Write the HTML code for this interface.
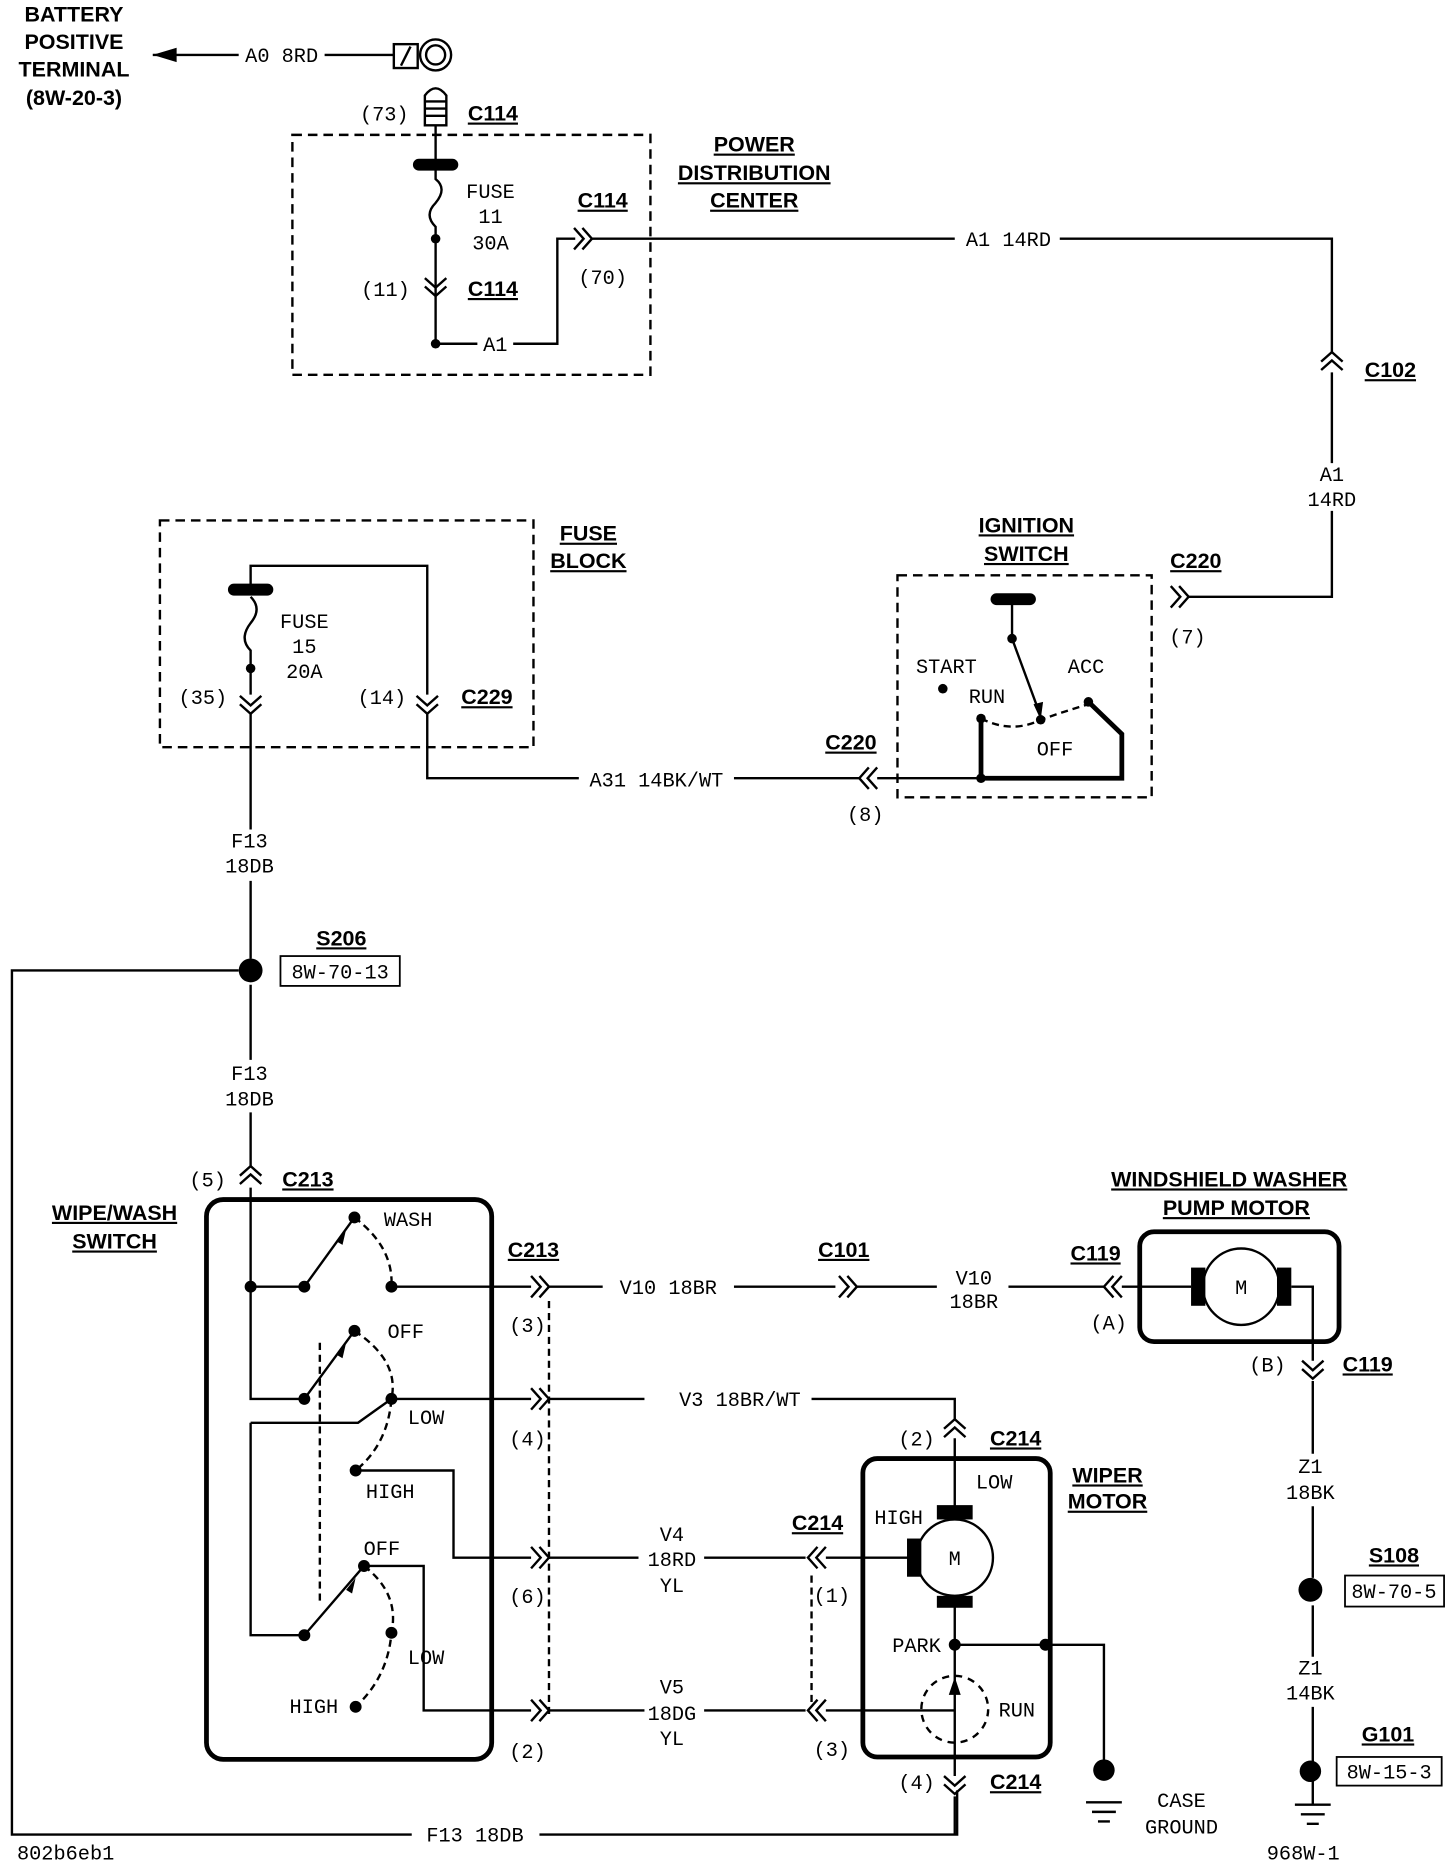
<!DOCTYPE html>
<html><head><meta charset="utf-8"><style>
html,body{margin:0;padding:0;background:#fff}
svg{display:block}
text{font-family:"Liberation Mono","DejaVu Sans Mono",monospace;font-size:17px;fill:#000}
.b{font-family:"Liberation Sans",sans-serif;font-weight:bold;font-size:18px;text-decoration:underline}
.bn{font-family:"Liberation Sans",sans-serif;font-weight:bold;font-size:18px}
</style></head><body>
<svg width="1456" height="1862" viewBox="0 0 1220 1560" preserveAspectRatio="none" xmlns="http://www.w3.org/2000/svg">
<defs>
<g id="cr"><path d="M-7,-9 L1,0 L-7,9 M0,-9 L8,0 L0,9" fill="none" stroke="#000" stroke-width="2"/></g>
</defs>
<g fill="none" stroke="#000" stroke-width="2">
<path d="M128,46 L200,46 M272,46 L330,46"/>
<rect x="330" y="37" width="20" height="20"/><path d="M336,55 L344,39"/>
<circle cx="365" cy="46" r="13"/><circle cx="365" cy="46" r="8"/>
<path d="M356,105 L356,80 Q365,68 374,80 L374,105 Z M356,85 H374 M356,91 H374 M356,97 H374"/>
<rect x="245" y="113" width="300" height="201" stroke-dasharray="8,5"/>
<path d="M365,105 L365,150 Q375,158 365,170 Q355,180 365,190 L365,288 L400,288 M430,288 L467,288 L467,200 L482,200 M495,200 L800,200 M888,200 L1116,200 L1116,295 M1116,312 L1116,388 M1116,428 L1116,500 L995,500"/>
<rect x="752" y="482" width="213" height="186" stroke-dasharray="8,5"/>
<path d="M848,502 L848,535 L872,600"/>
<path d="M822,602 Q848,615 872,603 Q895,595 912,590" stroke-dasharray="6,4"/>
<path d="M822,602 L822,652 L940,652 L940,615 L912,588" stroke-width="4"/>
<path d="M822,652 L735,652 M720,652 L615,652 M485,652 L358,652 L358,598 M358,582 L358,474 L210,474 L210,490"/>
<path d="M210,500 Q220,510 210,522 Q200,535 210,545 L210,582 M210,598 L210,695 M210,738 L210,803"/>
<rect x="134" y="436" width="313" height="190" stroke-dasharray="8,5"/>
<path d="M200,813 L10,813 L10,1537 L345,1537 M452,1537 L802,1537 L802,1500"/>
<path d="M210,825 L210,888 M210,932 L210,978 M210,995 L210,1172 L255,1172 M210,1078 L255,1078"/>
<rect x="173" y="1005" width="239" height="469" rx="14" stroke-width="4"/>
<path d="M255,1078 L297,1020 M328,1078 L445,1078 M255,1172 L297,1115 M328,1172 L445,1172 M298,1232 L380,1232 L380,1305 L445,1305"/>
<path d="M297,1020 Q330,1045 328,1078 M297,1115 Q335,1140 328,1172 Q325,1210 298,1232 M305,1312 Q335,1335 328,1368 Q325,1405 298,1430" stroke-dasharray="6,4"/>
<path d="M210,1192 L300,1192 L328,1172 M210,1192 L210,1370 L255,1370 L305,1312 L355,1312 L355,1433 L445,1433"/>
<path d="M268,1125 L268,1345 M460,1090 L460,1440 M680,1320 L680,1430" stroke-dasharray="6,4"/>
<path d="M460,1078 L505,1078 M615,1078 L700,1078 M718,1078 L785,1078 M845,1078 L925,1078 M940,1078 L998,1078"/>
<rect x="955" y="1032" width="167" height="92" rx="12" stroke-width="4"/>
<circle cx="1040" cy="1078" r="32"/>
<path d="M1082,1078 L1100,1078 L1100,1140 M1100,1157 L1100,1218 M1100,1262 L1100,1322 M1100,1345 L1100,1388 M1100,1430 L1100,1512"/>
<path d="M1085,1512 H1115 M1090,1520 H1110 M1095,1528 H1105"/>
<path d="M460,1172 L540,1172 M680,1172 L800,1172 L800,1190 M800,1205 L800,1265"/>
<rect x="723" y="1222" width="157" height="250" rx="12" stroke-width="4"/>
<circle cx="800" cy="1305" r="32"/>
<path d="M770,1305 L692,1305 M675,1305 L590,1305 M535,1305 L460,1305"/>
<path d="M800,1345 L800,1460 M800,1378 L925,1378 L925,1483 M800,1460 L800,1488 M800,1505 L800,1537"/>
<path d="M910,1510 H940 M915,1518 H935 M920,1526 H930"/>
<circle cx="800" cy="1432" r="28" stroke-dasharray="6,5"/>
<path d="M460,1433 L540,1433 M590,1433 L675,1433 M692,1433 L800,1433"/>
<rect x="235" y="801" width="100" height="25" stroke-width="1.5"/>
<rect x="1127" y="1320" width="83" height="26" stroke-width="1.5"/>
<rect x="1120" y="1472" width="88" height="24" stroke-width="1.5"/>
</g>
<g fill="#000">
<path d="M128,46 L148,40 L148,52 Z"/>
<rect x="346" y="133" width="38" height="10" rx="5"/>
<rect x="191" y="489" width="38" height="10" rx="5"/>
<rect x="830" y="497" width="38" height="10" rx="5"/>
<circle cx="365" cy="200" r="4"/><circle cx="365" cy="288" r="4"/><circle cx="210" cy="560" r="4"/>
<circle cx="848" cy="535" r="4"/><circle cx="872" cy="603" r="4"/><circle cx="790" cy="577" r="4"/><circle cx="912" cy="588" r="4"/><circle cx="822" cy="602" r="4"/><circle cx="822" cy="652" r="4"/>
<circle cx="210" cy="813" r="10"/><circle cx="1098" cy="1332" r="10"/><circle cx="1098" cy="1484" r="9"/><circle cx="925" cy="1483" r="9"/>
<circle cx="210" cy="1078" r="5"/><circle cx="255" cy="1078" r="5"/><circle cx="297" cy="1020" r="5"/><circle cx="328" cy="1078" r="5"/>
<circle cx="255" cy="1172" r="5"/><circle cx="297" cy="1115" r="5"/><circle cx="328" cy="1172" r="5"/><circle cx="298" cy="1232" r="5"/>
<circle cx="255" cy="1370" r="5"/><circle cx="305" cy="1312" r="5"/><circle cx="328" cy="1368" r="5"/><circle cx="298" cy="1430" r="5"/>
<circle cx="800" cy="1378" r="5"/><circle cx="876" cy="1378" r="5"/>
<path d="M290,1030 L282,1040 L287,1043 Z M290,1125 L282,1135 L287,1138 Z M298,1322 L290,1332 L295,1335 Z M872,603 L866,590 L874,588 Z M800,1405 L795,1420 L805,1420 Z"/>
<rect x="998" y="1062" width="12" height="32"/><rect x="1070" y="1062" width="12" height="32"/>
<rect x="785" y="1261" width="30" height="12"/><rect x="760" y="1289" width="12" height="32"/><rect x="785" y="1337" width="30" height="10"/>
</g>
<use href="#cr" transform="translate(488,200)"/>
<use href="#cr" transform="translate(988,500)"/>
<use href="#cr" transform="translate(365,240) rotate(90)"/>
<use href="#cr" transform="translate(1116,303) rotate(-90)"/>
<use href="#cr" transform="translate(728,652) rotate(180)"/>
<use href="#cr" transform="translate(358,590) rotate(90)"/>
<use href="#cr" transform="translate(210,590) rotate(90)"/>
<use href="#cr" transform="translate(210,985) rotate(-90)"/>
<use href="#cr" transform="translate(452,1078)"/>
<use href="#cr" transform="translate(452,1172)"/>
<use href="#cr" transform="translate(452,1305)"/>
<use href="#cr" transform="translate(452,1433)"/>
<use href="#cr" transform="translate(710,1078)"/>
<use href="#cr" transform="translate(933,1078) rotate(180)"/>
<use href="#cr" transform="translate(1100,1147) rotate(90)"/>
<use href="#cr" transform="translate(800,1197) rotate(-90)"/>
<use href="#cr" transform="translate(685,1305) rotate(180)"/>
<use href="#cr" transform="translate(685,1433) rotate(180)"/>
<use href="#cr" transform="translate(800,1495) rotate(90)"/>
<g text-anchor="middle">
<text class="bn" x="62" y="18">BATTERY</text><text class="bn" x="62" y="41">POSITIVE</text><text class="bn" x="62" y="64">TERMINAL</text><text class="bn" x="62" y="88">(8W-20-3)</text>
<text x="236" y="52">A0 8RD</text>
<text x="322" y="101">(73)</text><text class="b" x="413" y="101">C114</text>
<text x="411" y="166">FUSE</text><text x="411" y="187">11</text><text x="411" y="209">30A</text>
<text x="323" y="248">(11)</text><text class="b" x="413" y="248">C114</text>
<text x="415" y="294">A1</text>
<text class="b" x="505" y="174">C114</text><text x="505" y="238">(70)</text>
<text class="b" x="632" y="127">POWER</text><text class="b" x="632" y="151">DISTRIBUTION</text><text class="b" x="632" y="174">CENTER</text>
<text x="845" y="206">A1 14RD</text>
<text class="b" x="1165" y="316">C102</text>
<text x="1116" y="403">A1</text><text x="1116" y="424">14RD</text>
<text class="b" x="860" y="446">IGNITION</text><text class="b" x="860" y="470">SWITCH</text>
<text class="b" x="1002" y="476">C220</text><text x="995" y="539">(7)</text>
<text x="793" y="564">START</text><text x="827" y="589">RUN</text><text x="910" y="564">ACC</text><text x="884" y="633">OFF</text>
<text class="b" x="713" y="628">C220</text><text x="725" y="688">(8)</text>
<text x="550" y="659">A31 14BK/WT</text>
<text x="320" y="590">(14)</text><text class="b" x="408" y="590">C229</text><text x="170" y="590">(35)</text>
<text x="255" y="526">FUSE</text><text x="255" y="547">15</text><text x="255" y="568">20A</text>
<text class="b" x="493" y="453">FUSE</text><text class="b" x="493" y="476">BLOCK</text>
<text x="209" y="710">F13</text><text x="209" y="731">18DB</text>
<text class="b" x="286" y="792">S206</text><text x="285" y="820">8W-70-13</text>
<text x="209" y="905">F13</text><text x="209" y="926">18DB</text>
<text x="174" y="994">(5)</text><text class="b" x="258" y="994">C213</text>
<text class="b" x="96" y="1022">WIPE/WASH</text><text class="b" x="96" y="1046">SWITCH</text>
<text x="342" y="1027">WASH</text><text x="340" y="1121">OFF</text><text x="357" y="1193">LOW</text><text x="327" y="1255">HIGH</text>
<text x="320" y="1303">OFF</text><text x="357" y="1394">LOW</text><text x="263" y="1435">HIGH</text>
<text class="b" x="447" y="1053">C213</text><text x="442" y="1116">(3)</text><text x="442" y="1211">(4)</text><text x="442" y="1343">(6)</text><text x="442" y="1473">(2)</text>
<text x="560" y="1084">V10 18BR</text><text class="b" x="707" y="1053">C101</text>
<text x="816" y="1076">V10</text><text x="816" y="1096">18BR</text>
<text class="b" x="918" y="1056">C119</text><text x="929" y="1114">(A)</text>
<text class="b" x="1030" y="994">WINDSHIELD WASHER</text><text class="b" x="1036" y="1018">PUMP MOTOR</text>
<text x="1040" y="1084">M</text>
<text x="1062" y="1149">(B)</text><text class="b" x="1146" y="1149">C119</text>
<text x="1098" y="1234">Z1</text><text x="1098" y="1256">18BK</text>
<text class="b" x="1168" y="1309">S108</text><text x="1168" y="1339">8W-70-5</text>
<text x="1098" y="1403">Z1</text><text x="1098" y="1424">14BK</text>
<text class="b" x="1163" y="1459">G101</text><text x="1164" y="1490">8W-15-3</text>
<text x="1092" y="1558">968W-1</text>
<text x="620" y="1178">V3 18BR/WT</text>
<text x="768" y="1211">(2)</text><text class="b" x="851" y="1211">C214</text>
<text class="b" x="928" y="1242">WIPER</text><text class="b" x="928" y="1264">MOTOR</text>
<text x="833" y="1247">LOW</text><text x="753" y="1277">HIGH</text><text x="800" y="1311">M</text>
<text class="b" x="685" y="1282">C214</text><text x="697" y="1342">(1)</text>
<text x="563" y="1291">V4</text><text x="563" y="1312">18RD</text><text x="563" y="1334">YL</text>
<text x="768" y="1384">PARK</text><text x="852" y="1438">RUN</text>
<text x="563" y="1419">V5</text><text x="563" y="1441">18DG</text><text x="563" y="1462">YL</text>
<text x="697" y="1471">(3)</text>
<text x="768" y="1499">(4)</text><text class="b" x="851" y="1499">C214</text>
<text x="990" y="1514">CASE</text><text x="990" y="1536">GROUND</text>
<text x="398" y="1543">F13 18DB</text>
<text x="55" y="1558">802b6eb1</text>
</g>
</svg>
</body></html>
